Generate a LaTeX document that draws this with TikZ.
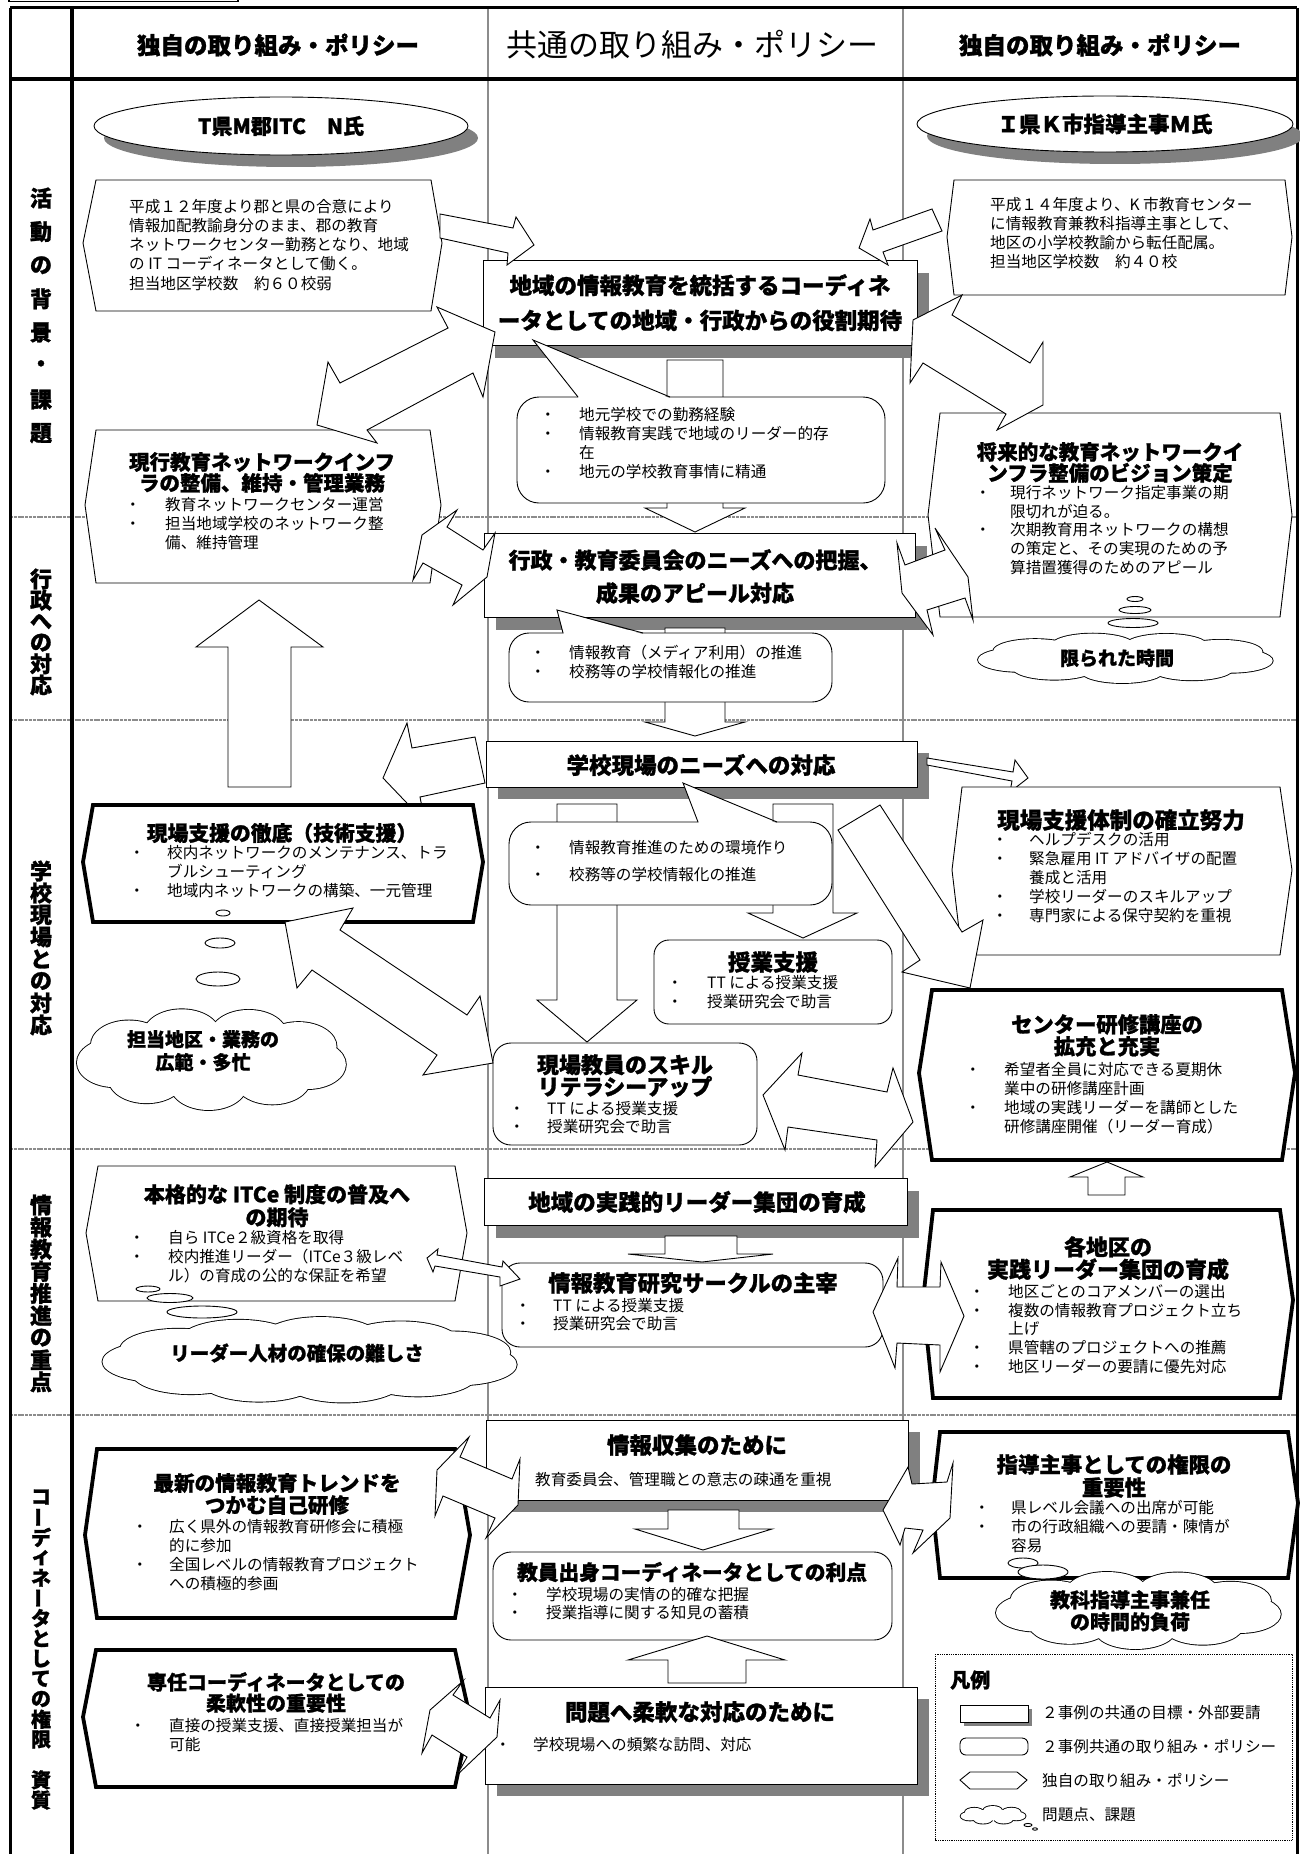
\documentclass[tikz,border=0pt]{standalone}
\usepackage{fontspec}
\usepackage{graphicx}
\setmainfont{Noto Sans CJK JP}[BoldFeatures={FakeBold=1.2}]
\usetikzlibrary{calc}
\definecolor{shd}{RGB}{128,128,128}
\definecolor{grd}{RGB}{140,140,140}
\newcommand\mybu[1]{\makebox[#1pt][l]{・}}
\newcommand\myind[1]{\hspace*{#1pt}}
\newcommand\hexa[8]{\draw[#1] (#2,#4) -- (#3,#4) -- (#7,#8) -- (#3,#5) -- (#2,#5) -- (#6,#8) -- cycle;}
\newcommand\shbox[6]{\fill[shd] ({#1+#5},{#2+#6}) rectangle ({#3+#5},{#4+#6}); \draw[shp] (#1,#2) rectangle (#3,#4);}
\newcommand\callo[9]{\draw[shp, rounded corners=#5pt] (#1,#2) rectangle (#3,#4);
 \fill[white] ({#6+0.8},{#2+1}) -- (#8,#9) -- ({#7-0.8},{#2+1}) -- cycle;
 \draw[line width=0.9pt] (#6,#2) -- (#8,#9) -- (#7,#2);}
\newcommand\varr[8]{\draw[shp] (#1,#3) -- (#1,#4) -- (#5,#4) -- (#7,#8) -- (#6,#4) -- (#2,#4) -- (#2,#3) -- cycle;}
% cloud: cx, cy, a, b, puffs
\newcommand\cloudy[5]{%
 \foreach \k in {1,...,#5}{\pgfmathsetmacro\ang{360*\k/#5+12}
   \draw[line width=1.8pt] ({#1+0.72*#3*cos(\ang)},{#2+0.52*#4*sin(\ang)}) ellipse [x radius={0.28*#3}, y radius={0.48*#4}];}
 \foreach \k in {1,...,#5}{\pgfmathsetmacro\ang{360*\k/#5+12}
   \fill[white] ({#1+0.72*#3*cos(\ang)},{#2+0.52*#4*sin(\ang)}) ellipse [x radius={0.28*#3}, y radius={0.48*#4}];}
 \fill[white] (#1,#2) ellipse [x radius={0.8*#3}, y radius={0.6*#4}];}
\begin{document}
\begin{tikzpicture}[x=1pt,y=-1pt,
 shp/.style={draw=black,fill=white,line width=0.9pt,line join=miter},
 thk/.style={draw=black,fill=white,line width=3.8pt,line join=miter},
 bdy/.style={anchor=north west,align=left,inner sep=0pt,font=\fontsize{15.6}{19.2}\selectfont},
 ttl/.style={anchor=north,align=center,inner sep=0pt,font=\bfseries\fontsize{21}{22}\selectfont},
 ctl/.style={anchor=center,inner sep=0pt,font=\bfseries\fontsize{22.5}{24}\selectfont},
 rowlab/.style={inner sep=0pt,font=\bfseries\fontsize{22}{22}\selectfont},
 lgt/.style={anchor=west,inner sep=0pt,font=\fontsize{15.6}{18}\selectfont},
]
\useasboundingbox (0,0) rectangle (1299,1854);
\fill[white] (0,0) rectangle (1299,1854);
% ---------- grid ----------
\draw[line width=1.2pt] (9,-3) -- (9,1.5) -- (238,1.5) -- (238,-3);
\foreach \yy in {517,720,1149,1415}
  \draw[grd,line width=2.5pt,dash pattern=on 3pt off 0.8pt] (10,\yy) -- (1297,\yy);
\draw[grd,line width=2.5pt] (488,8) -- (488,1854);
\draw[grd,line width=2.5pt] (903,8) -- (903,1854);
\draw[line width=3pt] (10,8) -- (1297,8);
\draw[line width=3.5pt] (10,79) -- (1297,79);
\draw[line width=3pt] (10,8) -- (10,1854);
\draw[line width=3pt] (1297,8) -- (1297,1854);
\draw[line width=4pt] (72,8) -- (72,1854);
% ---------- headers ----------
\node[inner sep=0pt,font=\bfseries\fontsize{23.5}{24}\selectfont] (hd1) at (278,45) {独自の取り組み・ポリシー};
\node[inner sep=0pt,font=\fontsize{31}{32}\selectfont] (hd2) at (692,45) {共通の取り組み・ポリシー};
\node[inner sep=0pt,font=\bfseries\fontsize{23.5}{24}\selectfont] (hd3) at (1100,45) {独自の取り組み・ポリシー};
% ---------- row labels ----------
\foreach \c [count=\i from 0] in {活,動,の,背,景,・,課,題}
  \node[rowlab] (ra\i) at (41,{198+\i*33.6}) {\c};
\foreach \c [count=\i from 0] in {行,政,へ,の,対,応}
  \node[rowlab] (rb\i) at (41,{579+\i*21.2}) {\c};
\foreach \c [count=\i from 0] in {学,校,現,場,と,の,対,応}
  \node[rowlab] (rc\i) at (41,{871+\i*22}) {\c};
\foreach \c [count=\i from 0] in {情,報,教,育,推,進,の,重,点}
  \node[rowlab] (rd\i) at (41,{1205+\i*22.1}) {\c};
\foreach \c/\r [count=\i from 0] in {コ/0,ー/90,デ/0,ィ/0,ネ/0,ー/90,タ/0,と/0,し/0,て/0,の/0,権/0,限/0,{}/0,資/0,質/0}
  \node[rowlab,font=\bfseries\fontsize{20}{20}\selectfont,rotate=\r] (re\i) at (41,{1497+\i*20.2}) {\c};
% ================= ROW 1 =================
\fill[shd] (291,138) ellipse [x radius=187, y radius=29];
\draw[shp] (281,126) ellipse [x radius=187, y radius=29];
\node[inner sep=0pt,font=\bfseries\fontsize{21}{22}\selectfont] (e1t) at (281,126) {T県M郡ITC　N氏};
\fill[shd] (1115,136) ellipse [x radius=188, y radius=28];
\draw[shp] (1105,124) ellipse [x radius=188, y radius=28];
\node[inner sep=0pt,font=\bfseries\fontsize{21.5}{22}\selectfont] (e2t) at (1105,124) {Ｉ県Ｋ市指導主事Ｍ氏};
\hexa{shp}{96}{431}{180}{311}{83}{442}{243}
\node[bdy] (l1t) at (129,199) {平成１２年度より郡と県の合意により\\情報加配教諭身分のまま、郡の教育\\ネットワークセンター勤務となり、地域\\の IT コーディネータとして働く。\\担当地区学校数　約６０校弱};
\hexa{shp}{954}{1285}{180}{295}{947}{1292}{237}
\node[bdy] (r1t) at (990,197) {平成１４年度より、K 市教育センター\\に情報教育兼教科指導主事として、\\地区の小学校教諭から転任配属。\\担当地区学校数　約４０校};
\shbox{483}{260}{917}{345}{12}{13}
\node[ttl,font=\bfseries\fontsize{22.5}{35}\selectfont] (b5t) at (700,274) {地域の情報教育を統括するコーディネ\\ータとしての地域・行政からの役割期待};
\draw[shp] (440,214) -- (513,228) -- (516,217) -- (534,245) -- (507,265) -- (508,253) -- (440,238) -- cycle;
\draw[shp] (932,209) -- (873,230) -- (870,219) -- (859,248) -- (888,265) -- (883,252) -- (942,231) -- cycle;
\varr{667}{723}{360}{508}{645}{745}{695}{532}
\callo{517}{397}{885}{503}{22}{578}{670}{533}{340}
\node[bdy] (c7t) at (540,407) {\mybu{39}地元学校での勤務経験\\\mybu{39}情報教育実践で地域のリーダー的存\\\myind{39}在\\\mybu{39}地元の学校教育事情に精通};
\hexa{shp}{96}{430}{430}{583}{85}{441}{505}
\node[ttl,font=\bfseries\fontsize{20.5}{21}\selectfont] (l2a) at (262,452) {現行教育ネットワークインフ\\ラの整備、維持・管理業務};
\node[bdy] (l2b) at (125,497) {\mybu{40}教育ネットワークセンター運営\\\mybu{40}担当地域学校のネットワーク整\\\myind{40}備、維持管理};
\hexa{shp}{940}{1280}{413}{617}{928}{1292}{515}
\node[ttl,font=\bfseries\fontsize{20.5}{20}\selectfont] (r2a) at (1110,442) {将来的な教育ネットワークイ\\ンフラ整備のビジョン策定};
\node[bdy,font=\fontsize{15.6}{18.8}\selectfont] (r2b) at (975,485) {\mybu{35}現行ネットワーク指定事業の期\\\myind{35}限切れが迫る。\\\mybu{35}次期教育用ネットワークの構想\\\myind{35}の策定と、その実現のための予\\\myind{35}算措置獲得のためのアピール};
\draw[shp] (317,425) -- (328,362) -- (340,383) -- (448,328) -- (437,307) -- (495,332) -- (483,397) -- (473,373) -- (367,430) -- (377,443) -- cycle;
\draw[shp] (913,320) -- (962,295) -- (952,315) -- (1030,363) -- (1043,342) -- (1043,405) -- (997,430) -- (1006,414) -- (923,363) -- (910,383) -- cycle;
% ================= ROW 2 =================
\shbox{484}{533}{915}{617}{12}{13}
\node[ttl,font=\bfseries\fontsize{22}{33}\selectfont] (b10t) at (695,549) {行政・教育委員会のニーズへの把握、\\成果のアピール対応};
\draw[shp] (422,535) -- (457,510) -- (447,527) -- (483,550) -- (495,533) -- (487,577) -- (453,605) -- (462,585) -- (423,563) -- (413,580) -- cycle;
\draw[shp] (902,593) -- (897,543) -- (905,565) -- (945,550) -- (935,528) -- (968,577) -- (973,620) -- (965,598) -- (927,610) -- (933,635) -- cycle;
\varr{665}{725}{628}{722}{645}{745}{695}{736}
\callo{509}{633}{832}{702}{20}{563}{643}{557}{610}
\node[bdy] (c10t) at (530,645) {\mybu{39}情報教育（メディア利用）の推進\\\mybu{39}校務等の学校情報化の推進};
\draw[shp] (1135,599) ellipse [x radius=8, y radius=2.5];
\draw[shp] (1135,610) ellipse [x radius=16, y radius=3.5];
\draw[shp] (1133,623) ellipse [x radius=25, y radius=4.5];
\cloudy{1126}{658}{149}{25}{9}
\node[inner sep=0pt,font=\bfseries\fontsize{19}{20}\selectfont] (cr2t) at (1117,658) {限られた時間};
% ================= ROW 3 =================
\shbox{486}{741}{917}{787}{12}{12}
\node[ctl] (b11t) at (701,765) {学校現場のニーズへの対応};
\varr{557}{617}{804}{1000}{537}{637}{587}{1042}
\varr{773}{833}{804}{913}{748}{857}{803}{938}
\callo{509}{822}{832}{905}{22}{698}{777}{683}{783}
\node[bdy,font=\fontsize{15.6}{27}\selectfont] (c12t) at (530,840) {\mybu{39}情報教育推進のための環境作り\\\mybu{39}校務等の学校情報化の推進};
\draw[shp] (475,737) -- (412,748) -- (407,723) -- (383,778) -- (425,822) -- (420,797) -- (485,783) -- cycle;
\draw[shp] (927,758) -- (1013,772) -- (1015,760) -- (1028,778) -- (1010,792) -- (1012,781) -- (927,765) -- cycle;
\hexa{thk}{93}{473}{805}{922}{83}{483}{862}
\node[inner sep=0pt,font=\bfseries\fontsize{20.8}{22}\selectfont] (l3a) at (282,833) {現場支援の徹底（技術支援）};
\node[bdy] (l3b) at (129,845) {\mybu{38}校内ネットワークのメンテナンス、トラ\\\myind{38}ブルシューティング\\\mybu{38}地域内ネットワークの構築、一元管理};
\draw[shp] (223,913) ellipse [x radius=7, y radius=3];
\draw[shp] (220,943) ellipse [x radius=15, y radius=5];
\draw[shp] (218,979) ellipse [x radius=22, y radius=7];
\cloudy{212}{1059}{136}{51}{9}
\node[ttl,font=\bfseries\fontsize{19}{23}\selectfont] (cl3t) at (203,1030) {担当地区・業務の\\広範・多忙};
\varr{228}{291}{787}{647}{196}{323}{259}{600}
\hexa{shp}{962}{1280}{787}{955}{952}{1292}{870}
\node[inner sep=0pt,font=\bfseries\fontsize{22.5}{24}\selectfont] (r3a) at (1121,820) {現場支援体制の確立努力};
\node[bdy,font=\fontsize{15.6}{19}\selectfont] (r3b) at (992,832) {\mybu{37}ヘルプデスクの活用\\\mybu{37}緊急雇用 IT アドバイザの配置\\\myind{37}養成と活用\\\mybu{37}学校リーダーのスキルアップ\\\mybu{37}専門家による保守契約を重視};
\draw[shp] (838,830) -- (880,805) -- (962,932) -- (983,920) -- (970,988) -- (902,972) -- (920,960) -- cycle;
\draw[shp,rounded corners=15pt] (654,940) rectangle (892,1024);
\node[ctl] (b13a) at (773,962) {授業支援};
\node[bdy] (b13b) at (667,975) {\mybu{40}TT による授業支援\\\mybu{40}授業研究会で助言};
\draw[shp,rounded corners=18pt] (493,1043) rectangle (757,1145);
\node[ttl,font=\bfseries\fontsize{22}{22}\selectfont] (b14a) at (625,1054) {現場教員のスキル\\リテラシーアップ};
\node[bdy,font=\fontsize{15.6}{18}\selectfont] (b14b) at (509,1101) {\mybu{38}TT による授業支援\\\mybu{38}授業研究会で助言};
\draw[shp] (285,922) -- (353,908) -- (340,930) -- (467,1015) -- (480,996) -- (493,1063) -- (423,1075) -- (437,1055) -- (312,970) -- (297,988) -- cycle;
\draw[shp] (763,1095) -- (802,1053) -- (798,1075) -- (887,1092) -- (893,1068) -- (913,1122) -- (875,1167) -- (877,1140) -- (788,1127) -- (785,1150) -- cycle;
\hexa{thk}{932}{1282}{990}{1160}{919}{1295}{1073}
\node[ttl,font=\bfseries\fontsize{21.3}{22}\selectfont] (r4a) at (1107,1014) {センター研修講座の\\拡充と充実};
\node[bdy,font=\fontsize{15.6}{19}\selectfont] (r4b) at (965,1062) {\mybu{39}希望者全員に対応できる夏期休\\\myind{39}業中の研修講座計画\\\mybu{39}地域の実践リーダーを講師とした\\\myind{39}研修講座開催（リーダー育成）};
% ================= ROW 4 =================
\hexa{shp}{98}{455}{1166}{1301}{86}{467}{1233}
\node[ttl,font=\bfseries\fontsize{21}{23}\selectfont] (l4a) at (277,1184) {本格的な ITCe 制度の普及へ\\の期待};
\node[bdy] (l4b) at (129,1230) {\mybu{39}自ら ITCe２級資格を取得\\\mybu{39}校内推進リーダー（ITCe３級レベ\\\myind{39}ル）の育成の公的な保証を希望};
\shbox{484}{1178}{907}{1225}{12}{13}
\node[ctl] (b27t) at (697,1202) {地域の実践的リーダー集団の育成};
\varr{665}{737}{1236}{1254}{628}{773}{702}{1262}
\draw[shp,rounded corners=18pt] (502,1263) rectangle (883,1347);
\node[ctl,font=\bfseries\fontsize{22.3}{24}\selectfont] (b28a) at (693,1283) {情報教育研究サークルの主宰};
\node[bdy,font=\fontsize{15.6}{18}\selectfont] (b28b) at (515,1298) {\mybu{38}TT による授業支援\\\mybu{38}授業研究会で助言};
\draw[shp] (148,1289) ellipse [x radius=12, y radius=3];
\draw[shp] (170,1298) ellipse [x radius=23, y radius=4.5];
\draw[shp] (202,1312) ellipse [x radius=35, y radius=6];
\cloudy{311}{1360}{209}{43}{11}
\node[inner sep=0pt,font=\bfseries\fontsize{19.5}{20}\selectfont] (cl4t) at (297,1353) {リーダー人材の確保の難しさ};
\draw[shp] (427,1258) -- (438,1249) -- (437,1255) -- (502,1267) -- (503,1261) -- (520,1279) -- (500,1286) -- (500,1277) -- (435,1266) -- (433,1272) -- cycle;
\hexa{thk}{933}{1280}{1210}{1398}{923}{1293}{1300}
\node[ttl,font=\bfseries\fontsize{22}{21}\selectfont] (r5a) at (1108,1236) {各地区の\\実践リーダー集団の育成};
\node[bdy,font=\fontsize{15.6}{18.8}\selectfont] (r5b) at (969,1284) {\mybu{39}地区ごとのコアメンバーの選出\\\mybu{39}複数の情報教育プロジェクト立ち\\\myind{39}上げ\\\mybu{39}県管轄のプロジェクトへの推薦\\\mybu{39}地区リーダーの要請に優先対応};
\varr{1088}{1125}{1195}{1177}{1070}{1143}{1107}{1162}
\draw[shp] (873,1312) -- (898,1258) -- (897,1287) -- (940,1287) -- (941,1262) -- (964,1316) -- (940,1372) -- (940,1345) -- (897,1343) -- (895,1368) -- cycle;
% ================= ROW 5 =================
\shbox{486}{1420}{908}{1500}{12}{12}
\node[ctl] (b33a) at (697,1445) {情報収集のために};
\node[bdy] (b33b) at (495,1472) {\mybu{40}教育委員会、管理職との意志の疎通を重視};
\varr{668}{739}{1510}{1529}{635}{772}{703}{1550}
\draw[shp,rounded corners=18pt] (493,1552) rectangle (892,1640);
\node[ctl,font=\bfseries\fontsize{20.7}{22}\selectfont] (b35a) at (692,1572) {教員出身コーディネータとしての利点};
\node[bdy,font=\fontsize{15.6}{18}\selectfont] (b35b) at (507,1587) {\mybu{39}学校現場の実情の的確な把握\\\mybu{39}授業指導に関する知見の蓄積};
\varr{668}{746}{1683}{1660}{628}{785}{707}{1636}
\shbox{485}{1687}{917}{1784}{12}{12}
\node[ctl] (b37a) at (700,1712) {問題へ柔軟な対応のために};
\node[bdy] (b37b) at (495,1737) {\mybu{38}学校現場への頻繁な訪問、対応};
\hexa{thk}{97}{455}{1449}{1618}{85}{470}{1535}
\node[ttl,font=\bfseries\fontsize{20.6}{22}\selectfont] (l5a) at (277,1473) {最新の情報教育トレンドを\\つかむ自己研修};
\node[bdy] (l5b) at (132,1519) {\mybu{37}広く県外の情報教育研修会に積極\\\myind{37}的に参加\\\mybu{37}全国レベルの情報教育プロジェクト\\\myind{37}への積極的参画};
\hexa{thk}{96}{455}{1650}{1787}{83}{470}{1717}
\node[ttl,font=\bfseries\fontsize{20}{21}\selectfont] (l6a) at (276,1672) {専任コーディネータとしての\\柔軟性の重要性};
\node[bdy] (l6b) at (130,1718) {\mybu{39}直接の授業支援、直接授業担当が\\\myind{39}可能};
\hexa{thk}{940}{1288}{1432}{1578}{932}{1298}{1503}
\node[ttl,font=\bfseries\fontsize{21.4}{23}\selectfont] (r6a) at (1114,1454) {指導主事としての権限の\\重要性};
\node[bdy] (r6b) at (974,1500) {\mybu{37}県レベル会議への出席が可能\\\mybu{37}市の行政組織への要請・陳情が\\\myind{37}容易};
\draw[shp] (1023,1563) ellipse [x radius=15, y radius=5];
\draw[shp] (1043,1572) ellipse [x radius=25, y radius=7];
\cloudy{1139}{1610}{144}{39}{9}
\node[ttl,font=\bfseries\fontsize{20}{22}\selectfont] (cr6t) at (1130,1590) {教科指導主事兼任\\の時間的負荷};
\draw[shp] (437,1470) -- (469,1437) -- (460,1457) -- (512,1479) -- (520,1459) -- (518,1505) -- (486,1538) -- (495,1518) -- (443,1496) -- (435,1516) -- cycle;
\draw[shp] (430,1710) -- (463,1681) -- (453,1695) -- (490,1718) -- (500,1700) -- (497,1737) -- (457,1775) -- (467,1757) -- (432,1735) -- (422,1753) -- cycle;
\draw[shp] (883,1510) -- (908,1467) -- (912,1484) -- (947,1482) -- (953,1463) -- (950,1518) -- (913,1553) -- (923,1530) -- (905,1528) -- (900,1545) -- cycle;
% ---------- legend ----------
\draw[line width=0.8pt,densely dotted] (935,1654) rectangle (1292,1840);
\node[anchor=west,inner sep=0pt,font=\bfseries\fontsize{20}{20}\selectfont] (lgh) at (950,1680) {凡例};
\fill[shd] (964,1709) rectangle (1032,1726);
\draw[shp] (960,1705) rectangle (1028,1722);
\node[lgt] (lg1) at (1042,1713) {２事例の共通の目標・外部要請};
\draw[shp,rounded corners=6pt] (960,1738) rectangle (1028,1755);
\node[lgt] (lg2) at (1042,1747) {２事例共通の取り組み・ポリシー};
\hexa{shp}{970}{1017}{1772}{1789}{960}{1027}{1780}
\node[lgt] (lg3) at (1042,1780) {独自の取り組み・ポリシー};
\cloudy{993}{1815}{33}{9}{7}
\draw[shp] (1028,1825) ellipse [x radius=4, y radius=1.6];
\draw[shp] (1035,1829) ellipse [x radius=2.5, y radius=1.2];
\node[lgt] (lg4) at (1042,1815) {問題点、課題};
\end{tikzpicture}
\end{document}
